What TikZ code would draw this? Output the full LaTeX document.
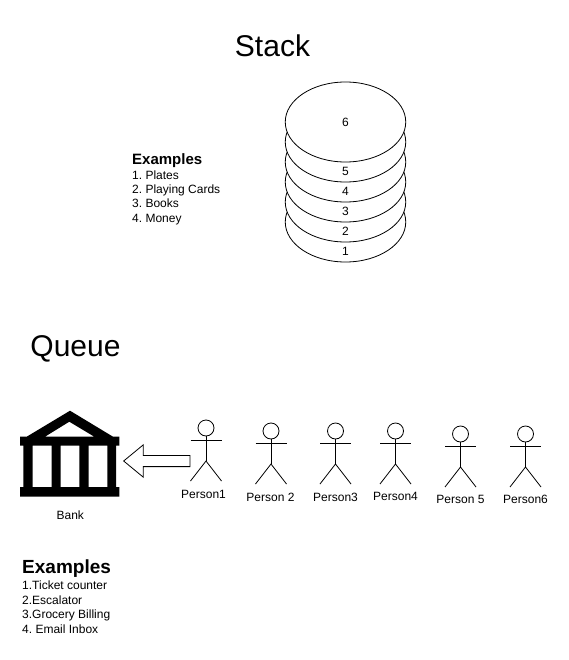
\documentclass[tikz,border=0pt]{standalone}
\usepackage{fontspec}
\setmainfont{Liberation Sans}
\usetikzlibrary{shapes.geometric, shapes.arrows, positioning}
\newcommand{\labelfont} {\fontsize{12}{14.4}\selectfont\frenchspacing}
\newcommand{\titlefont} {\fontsize{30}{36}\selectfont}
\tikzset{
  plate/.style = {ellipse, draw, fill = white, line width = 0.8pt, inner sep = 0pt, minimum width = 120.5pt, minimum height = 80pt},
  platetext/.style = {font = \labelfont, above = 3pt},
  persontext/.style = {font = \labelfont},
  person/.pic = {
    \node (-head) [circle, draw, line width = 0.8pt, inner sep = 0pt, minimum size = 16pt] at (0,0) {};
    \coordinate (-hip) at (0,33);
    \draw[line width = 0.8pt] (-head) -- (-hip);
    \draw[line width = 0.8pt] (-15.5,12) -- (15.5,12);
    \draw[line width = 0.8pt] (-15.5,53) -- (-hip) -- (15.5,53);
  }
}

\begin{document}
\begin{tikzpicture}[x = 1pt, y = -1pt]
\useasboundingbox (0,0) rectangle (568,660);

\node (stack) [font = \titlefont] at (272.5,45.5) {Stack};
\node (queue) [font = \titlefont] at (75.5,348.5) {Queue};

\node (plate1) [plate] at (345.5,222) {};
\node (plate2) [plate] at (345.5,202) {};
\node (plate3) [plate] at (345.5,182) {};
\node (plate4) [plate] at (345.5,162) {};
\node (plate5) [plate] at (345.5,142) {};
\node (plate6) [plate] at (345.5,122) {};
\node (text1) [platetext] at (plate1.south) {1};
\node (text2) [platetext] at (plate2.south) {2};
\node (text3) [platetext] at (plate3.south) {3};
\node (text4) [platetext] at (plate4.south) {4};
\node (text5) [platetext] at (plate5.south) {5};
\node (text6) [font = \labelfont] at (plate6) {6};

\node (stackhead) [font = \fontsize{15}{18}\selectfont\bfseries, anchor = west, inner sep = 0pt] at (132,161) {Examples};
\node (stacklist) [font = \labelfont, align = left, inner sep = 0pt, below = 2pt of stackhead.south west, anchor = north west] {1. Plates\\2. Playing Cards\\3. Books\\4. Money};

% bank icon
\fill[even odd rule] (70,410.7) -- (113,436.7) -- (119.3,436.7) -- (119.3,445.7) -- (116,445.7) -- (116,487) -- (119.3,487) -- (119.3,496.7) -- (20,496.7) -- (20,487) -- (23.3,487) -- (23.3,445.7) -- (20,445.7) -- (20,436.7) -- (26.7,436.7) -- cycle
  (69.3,421.7) -- (94.3,436.7) -- (45,436.7) -- cycle
  (32.7,445.7) rectangle (51.7,487)
  (60.7,445.7) rectangle (79.3,487)
  (88.7,445.7) rectangle (107.3,487);
\node (bank) [font = \labelfont] at (70.3,515) {Bank};

\node (moveto) [single arrow, draw, line width = 0.8pt, shape border rotate = 180, inner sep = 0pt, text height = 10.4pt, text depth = 0pt, minimum height = 66.3pt, single arrow head extend = 10.6pt, single arrow tip angle = 79] at (160.2,461) {};

\pic (person1) at (206,428) {person};
\pic (person2) at (271,431) {person};
\pic (person3) at (335.5,431) {person};
\pic (person4) at (395.5,431) {person};
\pic (person5) at (460.5,434) {person};
\pic (person6) at (525.5,434) {person};
\node (name1) [persontext] at (203.5,494) {Person1};
\node (name2) [persontext] at (270.5,497) {Person 2};
\node (name3) [persontext] at (335.5,497) {Person3};
\node (name4) [persontext] at (395.5,496.5) {Person4};
\node (name5) [persontext] at (460.5,499.5) {Person 5};
\node (name6) [persontext] at (525.5,499.5) {Person6};

\node (queuehead) [font = \fontsize{19}{22}\selectfont\bfseries, anchor = west, inner sep = 0pt] at (22,569) {Examples};
\node (queuelist) [font = \labelfont, align = left, inner sep = 0pt, below = 3pt of queuehead.south west, anchor = north west] {1.Ticket counter\\2.Escalator\\3.Grocery Billing\\4. Email Inbox};

\end{tikzpicture}
\end{document}
